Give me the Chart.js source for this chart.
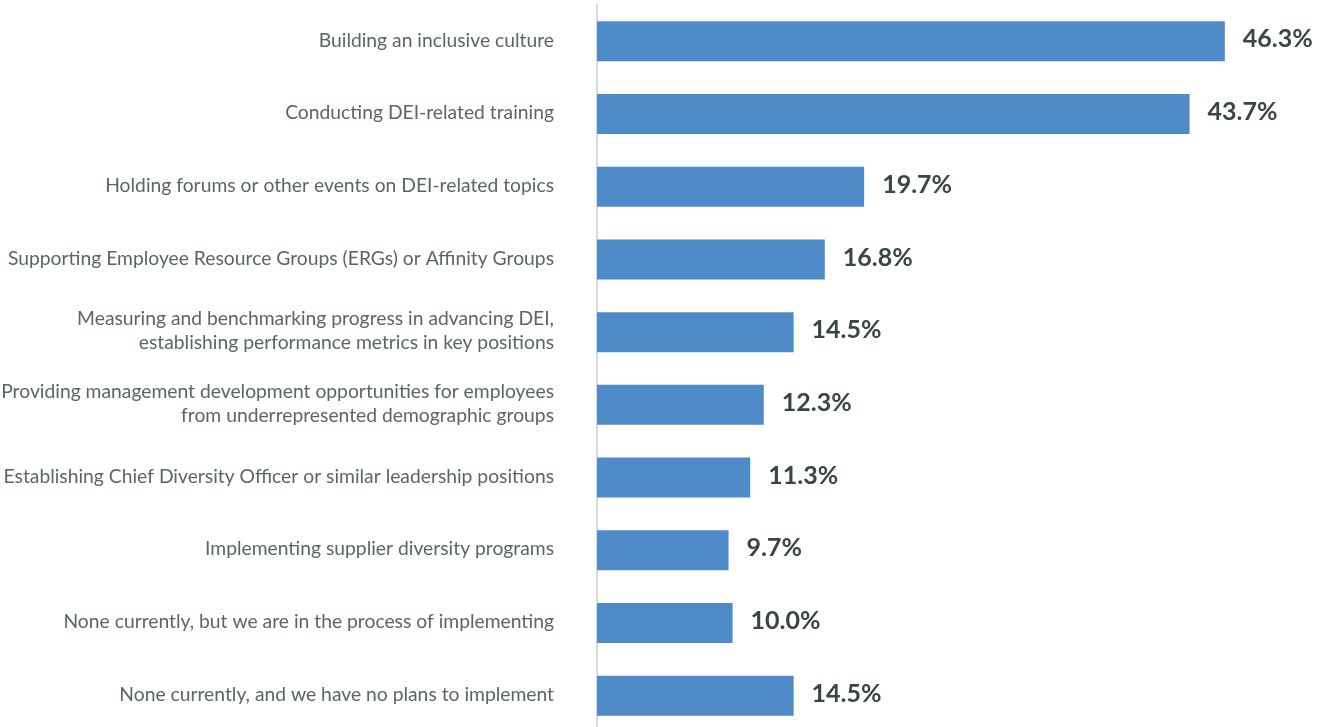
<!DOCTYPE html>
<html>
<head>
<meta charset="utf-8">
<script src="https://cdn.jsdelivr.net/npm/chart.js@4"></script>
<style>
  html, body { margin: 0; padding: 0; background: #fff; overflow: hidden; }
</style>
</head>
<body>
<canvas id="myChart" width="1325" height="732"></canvas>
<script>
// Datos del grafico
var categorias = [
  'Building an inclusive culture',
  'Conducting DEI-related training',
  'Holding forums or other events on DEI-related topics',
  'Supporting Employee Resource Groups (ERGs) or Affinity Groups',
  ['Measuring and benchmarking progress in advancing DEI,', 'establishing performance metrics in key positions'],
  ['Providing management development opportunities for employees', 'from underrepresented demographic groups'],
  'Establishing Chief Diversity Officer or similar leadership positions',
  'Implementing supplier diversity programs',
  'None currently, but we are in the process of implementing',
  'None currently, and we have no plans to implement'
];
var porcentajes = [46.3, 43.7, 19.7, 16.8, 14.5, 12.3, 11.3, 9.7, 10.0, 14.5];
var escalaMax = 50;

// etiquetas de valor al final de cada barra
var etiquetasValor = {
  id: 'etiquetasValor',
  afterDatasetsDraw: function(chart) {
    var ctx = chart.ctx;
    var meta = chart.getDatasetMeta(0);
    ctx.save();
    ctx.font = 'bold 25px Lato';
    ctx.fillStyle = '#3a4545';
    ctx.textAlign = 'left';
    ctx.textBaseline = 'middle';
    meta.data.forEach(function(bar, i) {
      ctx.fillText(porcentajes[i].toFixed(1) + '%', bar.x + 18, bar.y - 2);
    });
    ctx.restore();
  }
};

var ctx = document.getElementById('myChart').getContext('2d');
var chart = new Chart(ctx, {
  type: 'bar',
  data: {
    labels: categorias,
    datasets: [{
      data: porcentajes,
      backgroundColor: '#4f8ac9',
      borderWidth: 0,
      barPercentage: 0.55,
      categoryPercentage: 1
    }]
  },
  options: {
    indexAxis: 'y',
    responsive: false,
    animation: false,
    layout: { padding: { top: 5, right: 50, bottom: 0, left: 0 } },
    plugins: {
      legend: { display: false },
      tooltip: { enabled: false }
    },
    scales: {
      x: {
        display: false,
        min: 0,
        max: escalaMax
      },
      y: {
        afterFit: function(scale) {
          scale.width = 597;
          scale.paddingTop = 0;
          scale.paddingBottom = 0;
        },
        grid: { display: false, drawTicks: false },
        border: { display: true, color: '#d9dcdc', width: 2 },
        ticks: {
          padding: 43,
          labelOffset: -1,
          color: '#5a6666',
          font: { family: 'Lato', size: 19.3, lineHeight: 1.25 }
        }
      }
    }
  },
  plugins: [etiquetasValor]
});
</script>
</body>
</html>
